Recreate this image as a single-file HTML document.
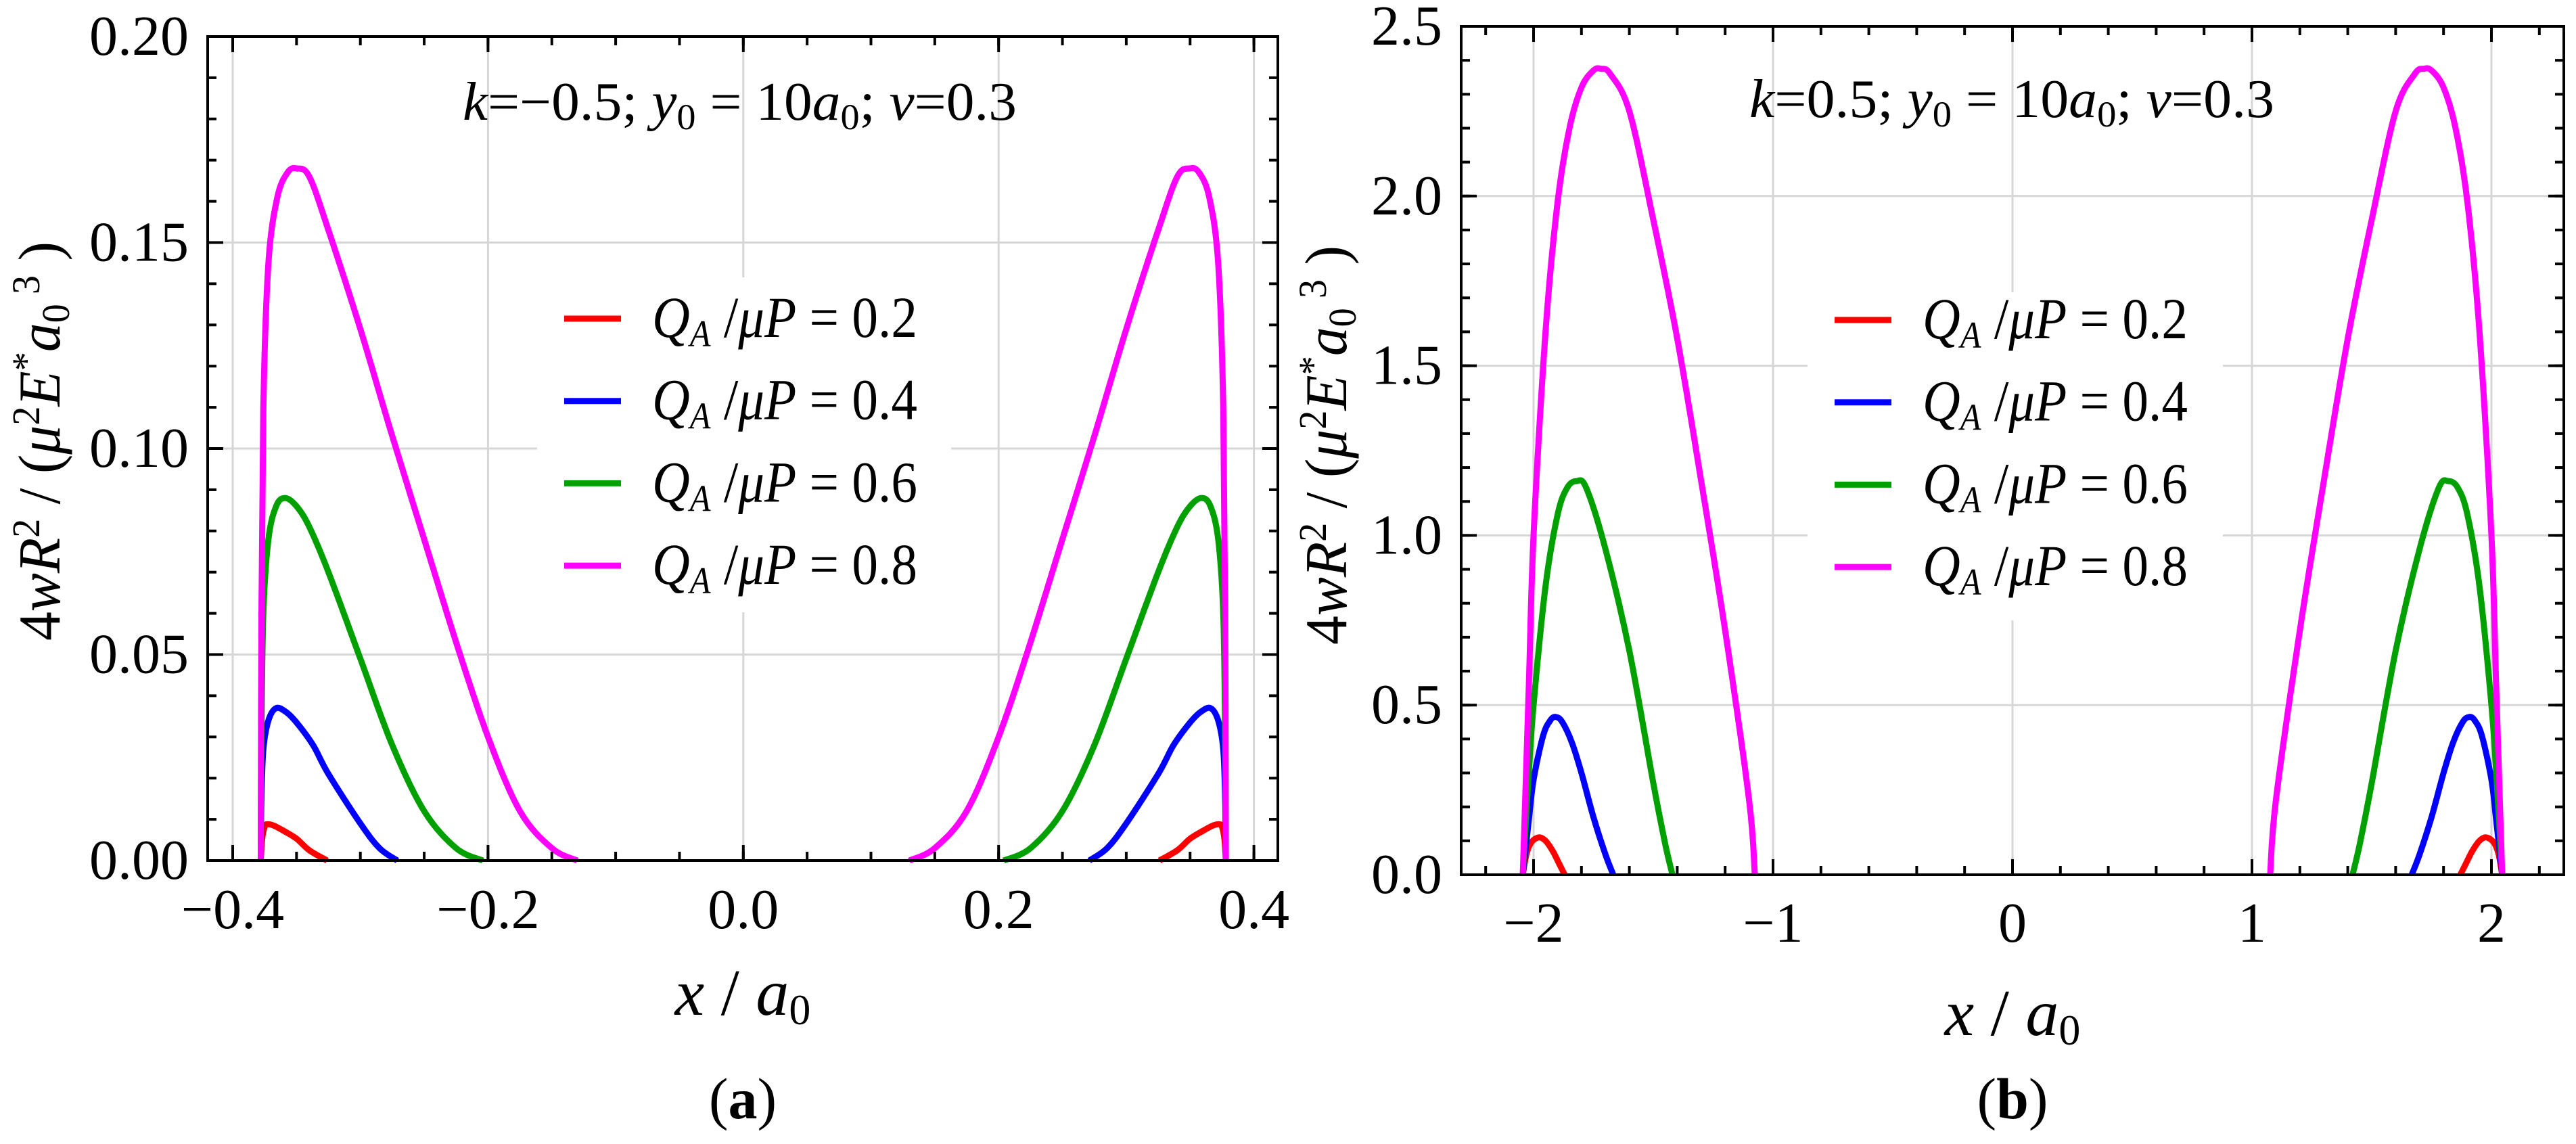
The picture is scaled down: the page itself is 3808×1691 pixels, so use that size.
<!DOCTYPE html>
<html><head><meta charset="utf-8"><style>
html,body{margin:0;padding:0;background:#fff;}
svg{display:block;}
svg text{font-family:"Liberation Serif","Times New Roman",Times,"DejaVu Serif",serif;}
</style></head><body>
<svg id="fig" width="3808" height="1691" viewBox="0 0 3808 1691" xmlns="http://www.w3.org/2000/svg"></svg>
<script>
// ---------- Chart (a) data ----------
const aTicksX = [-0.4, -0.2, 0.0, 0.2, 0.4];
const aTickLabelsX = ["\u22120.4", "\u22120.2", "0.0", "0.2", "0.4"];
const aTicksY = [0, 0.05, 0.10, 0.15, 0.20];
const aTickLabelsY = ["0.00", "0.05", "0.10", "0.15", "0.20"];
const aSeriesLabels = ["0.2", "0.4", "0.6", "0.8"];
const aMagX = [-0.378,-0.3775,-0.376,-0.372,-0.365,-0.357,-0.350,-0.340,-0.325,-0.300,-0.275,-0.250,-0.225,-0.200,-0.175,-0.150,-0.130];
const aMagY = [0,0.06,0.11,0.145,0.161,0.167,0.168,0.166,0.153,0.129,0.103,0.078,0.053,0.030,0.012,0.003,0];
const aMagX2 = [0.378,0.3775,0.376,0.372,0.365,0.357,0.350,0.340,0.325,0.300,0.275,0.250,0.225,0.200,0.175,0.150,0.130];
const aMagY2 = [0,0.06,0.11,0.145,0.161,0.167,0.168,0.166,0.153,0.129,0.103,0.078,0.053,0.030,0.012,0.003,0];
const aGrnX = [-0.378,-0.3775,-0.376,-0.372,-0.366,-0.359,-0.350,-0.340,-0.325,-0.300,-0.275,-0.250,-0.225,-0.204];
const aGrnY = [0,0.03,0.06,0.078,0.086,0.088,0.086,0.081,0.070,0.049,0.028,0.012,0.003,0];
const aGrnX2 = [0.378,0.3775,0.376,0.372,0.366,0.359,0.350,0.340,0.325,0.300,0.275,0.250,0.225,0.204];
const aGrnY2 = [0,0.03,0.06,0.078,0.086,0.088,0.086,0.081,0.070,0.049,0.028,0.012,0.003,0];
const aBluX = [-0.378,-0.3775,-0.376,-0.372,-0.366,-0.358,-0.350,-0.337,-0.325,-0.300,-0.285,-0.271];
const aBluY = [0,0.015,0.027,0.034,0.037,0.036,0.0335,0.028,0.021,0.009,0.003,0];
const aBluX2 = [0.378,0.3775,0.376,0.372,0.366,0.358,0.350,0.337,0.325,0.300,0.285,0.271];
const aBluY2 = [0,0.015,0.027,0.034,0.037,0.036,0.0335,0.028,0.021,0.009,0.003,0];
const aRedX = [-0.378,-0.377,-0.375,-0.373,-0.368,-0.360,-0.350,-0.340,-0.326];
const aRedY = [0,0.005,0.0082,0.0088,0.0085,0.0072,0.0053,0.0025,0];
const aRedX2 = [0.378,0.377,0.375,0.373,0.368,0.360,0.350,0.340,0.326];
const aRedY2 = [0,0.005,0.0082,0.0088,0.0085,0.0072,0.0053,0.0025,0];

// ---------- Chart (b) data ----------
const bTicksX = [-2, -1, 0, 1, 2];
const bTickLabelsX = ["\u22122", "\u22121", "0", "1", "2"];
const bTicksY = [0, 0.5, 1.0, 1.5, 2.0, 2.5];
const bTickLabelsY = ["0.0", "0.5", "1.0", "1.5", "2.0", "2.5"];
const bSeriesLabels = ["0.2", "0.4", "0.6", "0.8"];
const bMagX = [-2.045,-2.02,-2.0,-1.95,-1.9,-1.85,-1.80,-1.75,-1.718,-1.68,-1.6,-1.5,-1.4,-1.3,-1.2,-1.1,-1.076];
const bMagY = [0,0.55,1.0,1.6,1.98,2.2,2.32,2.37,2.375,2.36,2.25,1.93,1.58,1.16,0.72,0.22,0];
const bMagX2 = [2.045,2.02,2.0,1.95,1.9,1.85,1.80,1.75,1.718,1.68,1.6,1.5,1.4,1.3,1.2,1.1,1.076];
const bMagY2 = [0,0.55,1.0,1.6,1.98,2.2,2.32,2.37,2.375,2.36,2.25,1.93,1.58,1.16,0.72,0.22,0];
const bGrnX = [-2.045,-2.02,-2.0,-1.95,-1.9,-1.86,-1.82,-1.78,-1.7,-1.6,-1.5,-1.45,-1.42];
const bGrnY = [0,0.3,0.5,0.85,1.06,1.14,1.16,1.14,0.96,0.66,0.27,0.09,0];
const bGrnX2 = [2.045,2.02,2.0,1.95,1.9,1.86,1.82,1.78,1.7,1.6,1.5,1.45,1.42];
const bGrnY2 = [0,0.3,0.5,0.85,1.06,1.14,1.16,1.14,0.96,0.66,0.27,0.09,0];
const bBluX = [-2.045,-2.02,-2.0,-1.96,-1.93,-1.907,-1.88,-1.84,-1.8,-1.75,-1.7,-1.667];
const bBluY = [0,0.16,0.28,0.41,0.455,0.465,0.45,0.39,0.30,0.17,0.06,0];
const bBluX2 = [2.045,2.02,2.0,1.96,1.93,1.907,1.88,1.84,1.8,1.75,1.7,1.667];
const bBluY2 = [0,0.16,0.28,0.41,0.455,0.465,0.45,0.39,0.30,0.17,0.06,0];
const bRedX = [-2.045,-2.03,-2.01,-1.978,-1.95,-1.92,-1.895,-1.87];
const bRedY = [0,0.06,0.095,0.11,0.1,0.07,0.035,0];
const bRedX2 = [2.045,2.03,2.01,1.978,1.95,1.92,1.895,1.87];
const bRedY2 = [0,0.06,0.095,0.11,0.1,0.07,0.035,0];

const NS = "http://www.w3.org/2000/svg";
const FONT = "'Liberation Serif', 'Times New Roman', Times, 'DejaVu Serif', serif";
const svg = document.getElementById("fig");
function mk(tag, attrs, parent) {
  const e = document.createElementNS(NS, tag);
  for (const k in attrs) e.setAttribute(k, attrs[k]);
  (parent || svg).appendChild(e);
  return e;
}
function ttext(parent, x, y, size, parts, anchor, extra) {
  const t = mk("text", Object.assign({x: x, y: y, "font-size": size, "text-anchor": anchor || "start", fill: "#000"}, extra || {}), parent);
  t.style.fontFamily = FONT;
  parts.forEach(p => {
    const s = document.createElementNS(NS, "tspan");
    s.textContent = p[0];
    if (p[1] && p[1].indexOf("i") >= 0) s.setAttribute("font-style", "italic");
    if (p[1] && p[1].indexOf("b") >= 0) s.setAttribute("font-weight", "bold");
    if (p[2]) s.setAttribute("dy", p[2]);
    if (p[3]) s.setAttribute("font-size", p[3]);
    t.appendChild(s);
  });
  return t;
}
function smoothPath(P) {
  let d = "M" + P[0][0].toFixed(1) + "," + P[0][1].toFixed(1);
  for (let i = 0; i < P.length - 1; i++) {
    const p0 = P[Math.max(0, i - 1)], p1 = P[i], p2 = P[i + 1], p3 = P[Math.min(P.length - 1, i + 2)];
    const c1x = p1[0] + (p2[0] - p0[0]) / 6, c1y = p1[1] + (p2[1] - p0[1]) / 6;
    const c2x = p2[0] - (p3[0] - p1[0]) / 6, c2y = p2[1] - (p3[1] - p1[1]) / 6;
    d += " C" + c1x.toFixed(1) + "," + c1y.toFixed(1) + " " + c2x.toFixed(1) + "," + c2y.toFixed(1) + " " + p2[0].toFixed(1) + "," + p2[1].toFixed(1);
  }
  return d;
}

function chart(c) {
  const g = mk("g", {});
  
  
  const sx = v => c.L + (v - c.xmin) / (c.xmax - c.xmin) * (c.R - c.L);
  const sy = v => c.B - (v - c.ymin) / (c.ymax - c.ymin) * (c.B - c.T);

  const grid = mk("g", {stroke: "#d6d6d6", "stroke-width": 3}, g);
  
  
  c.ticksX.forEach(v => { const x = sx(v); if (x > c.L + 5 && x < c.R - 5) mk("line", {x1: x, x2: x, y1: c.T, y2: c.B}, grid); });
  c.ticksY.forEach(v => { const y = sy(v); if (y > c.T + 5 && y < c.B - 5) mk("line", {x1: c.L, x2: c.R, y1: y, y2: y}, grid); });

  const ann = ttext(g, c.annX, c.annY, 80, c.ann, "start", {textLength: c.annW, lengthAdjust: "spacingAndGlyphs"});
  
  

  const lg = mk("g", {}, g);
  
  
  mk("rect", {x: c.legBox[0], y: c.legBox[1], width: c.legBox[2], height: c.legBox[3], fill: "#fff"}, lg);

  c.series.forEach((s, i) => {
    [[s.x, s.y], [s.x2, s.y2]].forEach((xy, j) => {
      const P = xy[0].map((v, k) => [sx(v), sy(xy[1][k])]);
      const pl = mk("path", {d: smoothPath(P), fill: "none", stroke: s.color, "stroke-width": 9, "stroke-linejoin": "round", "stroke-linecap": "butt"}, g);
      
      
    });
  });

  c.series.forEach((s, i) => {
    const y = c.legY0 + i * c.legDy;
    const eg = mk("g", {}, lg);
    
    
    mk("line", {x1: c.legX, x2: c.legX + 84, y1: y, y2: y, stroke: s.color, "stroke-width": 9}, eg);
    ttext(eg, c.legX + 130, y + 27, 86, [["Q", "i"], ["A", "i", "14", 56], [" /", "", "-14", 86], ["\u03bcP", "i"], [" = " + s.label, ""]], "start", {textLength: 392, lengthAdjust: "spacingAndGlyphs"});
  });

  const ax = mk("g", {stroke: "#000", "stroke-width": 4, fill: "none"}, g);
  
  
  mk("rect", {x: c.L, y: c.T, width: c.R - c.L, height: c.B - c.T}, ax);
  const minorX = [], minorY = [];
  for (let v = Math.ceil(c.xmin / c.minX) * c.minX; v <= c.xmax + 1e-9; v += c.minX) minorX.push(v);
  for (let v = Math.ceil(c.ymin / c.minY) * c.minY; v <= c.ymax + 1e-9; v += c.minY) minorY.push(v);
  minorX.forEach(v => { const x = sx(v); mk("line", {x1: x, x2: x, y1: c.B, y2: c.B - 13}, ax); mk("line", {x1: x, x2: x, y1: c.T, y2: c.T + 13}, ax); });
  minorY.forEach(v => { const y = sy(v); mk("line", {x1: c.L, x2: c.L + 13, y1: y, y2: y}, ax); mk("line", {x1: c.R, x2: c.R - 13, y1: y, y2: y}, ax); });
  c.ticksX.forEach(v => { const x = sx(v); mk("line", {x1: x, x2: x, y1: c.B, y2: c.B - 23}, ax); mk("line", {x1: x, x2: x, y1: c.T, y2: c.T + 23}, ax); });
  c.ticksY.forEach(v => { const y = sy(v); mk("line", {x1: c.L, x2: c.L + 23, y1: y, y2: y}, ax); mk("line", {x1: c.R, x2: c.R - 23, y1: y, y2: y}, ax); });

  c.ticksX.forEach((v, i) => {
    const t = ttext(g, sx(v), c.xLabBase, 84, [[c.labX[i], ""]], "middle");
    
    
  });
  c.ticksY.forEach((v, i) => {
    const t = ttext(g, c.L - 28, sy(v) + 27, 84, [[c.labY[i], ""]], "end");
    
    
  });

  const xt = ttext(g, (c.L + c.R) / 2, c.xTitleY, 98, [["x", "i"], [" / ", ""], ["a", "i"], ["0", "", "14", 64]], "middle");
  
  
  const yt = ttext(g, 0, 0, 88, [["4", ""], ["wR", "i"], ["2", "", "-30", 58], [" / (", "", "30", 88], ["\u03bc", "i"], ["2", "", "-30", 58], ["E", "i", "30", 88], ["*", "", "-30", 58], ["a", "i", "30", 88], ["0", "", "14", 58], [" ", "", "-14", 58], ["3", "", "-30", 58], [" )", "", "30", 88]], "middle",
    {transform: "translate(" + c.yTitleX + "," + c.yTitleY + ") rotate(-90)", textLength: 590, lengthAdjust: "spacingAndGlyphs"});
  
  
  const cap = ttext(g, (c.L + c.R) / 2, 1653, 86, [["(", ""], [c.cap, "b"], [")", ""]], "middle");
  
  
}

chart({
  name: "chart-a", L: 307, R: 1889, T: 54, B: 1272,
  xmin: -0.4 - 37 / 1887, xmax: -0.4 + 1582 / 1887 - 37 / 1887, ymin: 0, ymax: 0.2,
  ticksX: aTicksX, labX: aTickLabelsX, ticksY: aTicksY, labY: aTickLabelsY,
  minX: 0.05, minY: 0.01, xLabBase: 1372, xTitleY: 1500, yTitleX: 88, yTitleY: 652, cap: "a",
  ann: [["k", "i"], ["=\u22120.5; ", ""], ["y", "i"], ["0", "", "14", 54], [" = 10", "", "-14", 80], ["a", "i"], ["0", "", "14", 54], ["; ", "", "-14", 80], ["\u03bd", "i"], ["=0.3", ""]],
  annX: 684, annY: 177, annW: 819,
  legBox: [794, 410, 612, 495], legX: 834, legY0: 471, legDy: 121.7,
  series: [
    {label: aSeriesLabels[0], color: "#ff0000", x: aRedX, y: aRedY, x2: aRedX2, y2: aRedY2},
    {label: aSeriesLabels[1], color: "#0000ff", x: aBluX, y: aBluY, x2: aBluX2, y2: aBluY2},
    {label: aSeriesLabels[2], color: "#00a000", x: aGrnX, y: aGrnY, x2: aGrnX2, y2: aGrnY2},
    {label: aSeriesLabels[3], color: "#ff00ff", x: aMagX, y: aMagY, x2: aMagX2, y2: aMagY2}
  ]
});
chart({
  name: "chart-b", L: 2160, R: 3790, T: 39, B: 1293,
  xmin: -2 - 107 / 354, xmax: -2 + 1523 / 354, ymin: 0, ymax: 2.5,
  ticksX: bTicksX, labX: bTickLabelsX, ticksY: bTicksY, labY: bTickLabelsY,
  minX: 0.2, minY: 0.1, xLabBase: 1392, xTitleY: 1530, yTitleX: 1990, yTitleY: 658, cap: "b",
  ann: [["k", "i"], ["=0.5; ", ""], ["y", "i"], ["0", "", "14", 54], [" = 10", "", "-14", 80], ["a", "i"], ["0", "", "14", 54], ["; ", "", "-14", 80], ["\u03bd", "i"], ["=0.3", ""]],
  annX: 2586, annY: 173, annW: 776,
  legBox: [2672, 432, 614, 485], legX: 2712, legY0: 473, legDy: 121.7,
  series: [
    {label: bSeriesLabels[0], color: "#ff0000", x: bRedX, y: bRedY, x2: bRedX2, y2: bRedY2},
    {label: bSeriesLabels[1], color: "#0000ff", x: bBluX, y: bBluY, x2: bBluX2, y2: bBluY2},
    {label: bSeriesLabels[2], color: "#00a000", x: bGrnX, y: bGrnY, x2: bGrnX2, y2: bGrnY2},
    {label: bSeriesLabels[3], color: "#ff00ff", x: bMagX, y: bMagY, x2: bMagX2, y2: bMagY2}
  ]
});
</script>
</body></html>
